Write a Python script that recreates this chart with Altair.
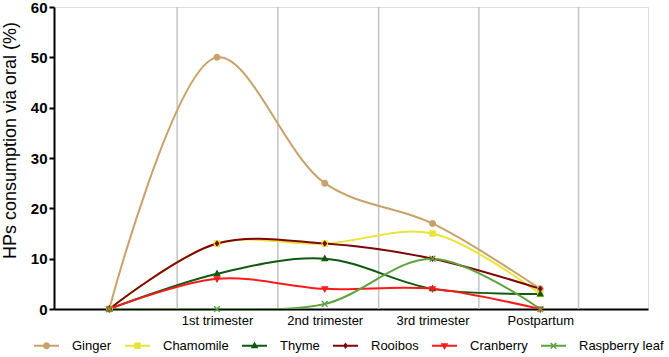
import json
import altair as alt
import pandas as pd

# ---- data ----
herbs = ["Ginger", "Chamomile", "Thyme", "Rooibos", "Cranberry", "Raspberry leaf"]
stages = ["", "1st trimester", "2nd trimester", "3rd trimester", "Postpartum"]
stage_pos = [0, 1, 2, 3, 4]
ginger = [0, 50, 25, 17, 4]
chamomile = [0, 13, 13, 15, 3]
thyme = [0, 7, 10, 4, 3]
rooibos = [0, 13, 13, 10, 4]
cranberry = [0, 6, 4, 4, 0]
raspberry = [0, 0, 1, 10, 0]
gridlines = [0.63, 1.565, 2.5, 3.43, 4.355]

series = [ginger, chamomile, thyme, rooibos, cranberry, raspberry]
rows = []
for h, vals in zip(herbs, series):
    for p, v in zip(stage_pos, vals):
        rows.append({"herb": h, "stage": p, "value": v})
df = pd.DataFrame(rows)
grid_df = pd.DataFrame({"g": gridlines})

# ---- styles ----
colors = ["#C9A26B", "#EAE43A", "#0F5A10", "#7E0606", "#FF1A1A", "#5EA33E"]
marker_paths = [
    "M-0.28,0A0.28,0.28,0,1,1,0.28,0A0.28,0.28,0,1,1,-0.28,0Z",
    "M-0.26,-0.26L0.26,-0.26L0.26,0.26L-0.26,0.26Z",
    "M0,-0.34L0.3,0.2L-0.3,0.2Z",
    "M0,-0.26L0.2,0L0,0.26L-0.2,0Z",
    "M0,0.34L-0.3,-0.2L0.3,-0.2Z",
    "M-0.27,-0.19L-0.19,-0.27L0,-0.08L0.19,-0.27L0.27,-0.19L0.08,0L0.27,0.19L0.19,0.27L0,0.08L-0.19,0.27L-0.27,0.19L-0.08,0Z",
]
line_bar = "M-1,-0.08L1,-0.08L1,0.08L-1,0.08Z"
legend_paths = [line_bar + p for p in marker_paths]

FONT = "Liberation Sans"
SYM = 625

xscale = alt.Scale(domain=[-0.513, 5.0], nice=False, zero=False)
yscale = alt.Scale(domain=[0, 60], nice=False)

label_expr = "[" + ",".join(json.dumps(s) for s in stages) + "][datum.value]"

x_axis = alt.Axis(values=[1, 2, 3, 4], labelExpr=label_expr, tickSize=0,
                  domainColor="black", domainWidth=2, labelFontSize=13,
                  labelColor="black", labelFont=FONT, labelPadding=5,
                  grid=False, title=None)
y_axis = alt.Axis(values=list(range(0, 61, 10)), tickSize=5, tickWidth=2,
                  tickColor="black", domainColor="black", domainWidth=2,
                  labelFontWeight="bold", labelFontSize=15, labelColor="black",
                  labelFont=FONT, labelPadding=2, grid=False,
                  title="HPs consumption via oral (%)", titleFontSize=18,
                  titleFontWeight="normal", titleFont=FONT, titleColor="black",
                  titleX=-35, titleY=133, titleAlign="center")

legend = alt.Legend(orient="none", legendX=-20, legendY=326, direction="horizontal",
                    title=None, padding=0, symbolSize=SYM, labelFontSize=13,
                    labelFont=FONT, labelColor="black", labelOffset=13,
                    columnPadding=13, columns=6, symbolStrokeWidth=0)

grid = alt.Chart(grid_df).mark_rule(color="#c4c4c4", strokeWidth=1.5).encode(
    x=alt.X("g:Q", scale=xscale, axis=x_axis)
)

lines = alt.Chart(df).mark_line(interpolate="catmull-rom", strokeWidth=2, clip=True).encode(
    x=alt.X("stage:Q", scale=xscale, axis=x_axis),
    y=alt.Y("value:Q", scale=yscale, axis=y_axis),
    color=alt.Color("herb:N", scale=alt.Scale(domain=herbs, range=colors), legend=None),
)

points = alt.Chart(df).mark_point(filled=True, size=SYM, opacity=1).encode(
    x=alt.X("stage:Q", scale=xscale),
    y=alt.Y("value:Q", scale=yscale),
    color=alt.Color("herb:N", scale=alt.Scale(domain=herbs, range=colors), legend=None),
    shape=alt.Shape("herb:N", scale=alt.Scale(domain=herbs, range=marker_paths), legend=None),
)

legend_layer = alt.Chart(df).transform_filter("false").mark_point(
    filled=True, size=SYM, opacity=1
).encode(
    x=alt.X("stage:Q", scale=xscale),
    y=alt.Y("value:Q", scale=yscale),
    color=alt.Color("herb:N", scale=alt.Scale(domain=herbs, range=colors), legend=legend),
    shape=alt.Shape("herb:N", scale=alt.Scale(domain=herbs, range=legend_paths), legend=legend),
)

chart = alt.layer(grid, lines, points, legend_layer).resolve_scale(
    color="independent", shape="independent"
).properties(
    width=594, height=302,
    autosize=alt.AutoSizeParams(type="none"),
    padding={"left": 54, "top": 7, "right": 21, "bottom": 48},
).configure_view(stroke=None).configure(font=FONT)

chart.save("out.html", embed_options={"renderer": "svg", "actions": False})
